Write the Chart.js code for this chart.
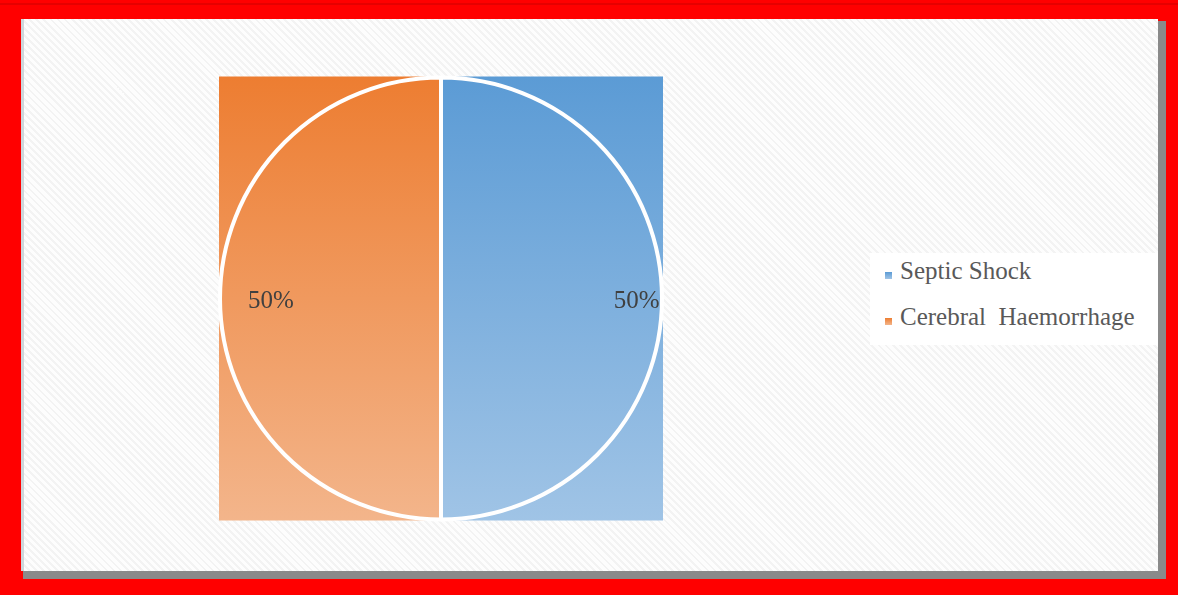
<!DOCTYPE html>
<html>
<head>
<meta charset="utf-8">
<script src="https://cdn.jsdelivr.net/npm/chart.js@4"></script>
<style>
  html, body { margin:0; padding:0; width:1178px; height:595px; overflow:hidden; background:#ff0000; }
  #topline { position:absolute; left:0; top:3px; width:1178px; height:2px; background:#e60000; }
  #shadowR { position:absolute; left:1158px; top:21px; width:8px; height:558px; background:#8a8a8a; }
  #shadowB { position:absolute; left:23px; top:571px; width:1143px; height:8px; background:#8a8a8a; }
  #panel { position:absolute; left:21px; top:19px; width:1137px; height:552px;
    background: repeating-linear-gradient(45deg, #fdfdfd 0px, #fdfdfd 3px, #f3f3f3 3px, #f3f3f3 5px);
    border-left:3px solid #cfd6da; box-sizing:border-box; }
  #wrap { position:absolute; left:0; top:0; width:1178px; height:595px; }
  #legend { position:absolute; left:870px; top:253px; width:288px; height:92px; background:#ffffff;
    font-family:"Liberation Serif","Times New Roman",serif; font-size:25px; color:#595959; }
  .item { position:absolute; left:15px; white-space:pre; line-height:26px; }
  .mk { display:inline-block; width:7px; height:7px; margin-right:8px; vertical-align:baseline; }
</style>
</head>
<body>
<div id="topline"></div>
<div id="shadowR"></div>
<div id="shadowB"></div>
<div id="panel"></div>
<div id="wrap"><canvas id="c"></canvas></div>
<div id="legend"></div>
<script>
const categories = ["Septic Shock", "Cerebral  Haemorrhage"];
const values = [50, 50];
const topColors = ["#5b9bd5", "#ed7d31"];
const bottomColors = ["#a0c4e6", "#f3b58b"];

function makeGrad(chart, i) {
  const a = chart.chartArea;
  if (!a) return topColors[i];
  const g = chart.ctx.createLinearGradient(0, a.top, 0, a.bottom);
  g.addColorStop(0, topColors[i]);
  g.addColorStop(1, bottomColors[i]);
  return g;
}

const backSquare = {
  id: 'backSquare',
  beforeDatasetsDraw(chart) {
    const meta = chart.getDatasetMeta(0);
    const ctx = chart.ctx;
    ctx.save();
    meta.data.forEach((arc, i) => {
      const p = arc.getProps(['x','y','outerRadius','startAngle','endAngle'], true);
      const mid = (p.startAngle + p.endAngle) / 2;
      const r = p.outerRadius + 1;
      ctx.fillStyle = makeGrad(chart, i);
      if (Math.cos(mid) >= 0) ctx.fillRect(p.x, p.y - r, r, 2 * r);
      else ctx.fillRect(p.x - r, p.y - r, r, 2 * r);
    });
    ctx.restore();
  }
};

const pctLabels = {
  id: 'pctLabels',
  afterDatasetsDraw(chart) {
    const meta = chart.getDatasetMeta(0);
    const ctx = chart.ctx;
    const total = values.reduce((s, v) => s + v, 0);
    const factors = [0.885, 0.77];
    ctx.save();
    ctx.font = '25px "Liberation Serif", "Times New Roman", serif';
    ctx.fillStyle = '#404040';
    ctx.textAlign = 'center';
    ctx.textBaseline = 'middle';
    meta.data.forEach((arc, i) => {
      const p = arc.getProps(['x','y','outerRadius','startAngle','endAngle'], true);
      const mid = (p.startAngle + p.endAngle) / 2;
      const f = factors[i] || 0.8;
      const x = p.x + Math.cos(mid) * p.outerRadius * f;
      const y = p.y + Math.sin(mid) * p.outerRadius * f + 3;
      ctx.fillText(Math.round(values[i] / total * 100) + '%', x, y);
    });
    ctx.restore();
  }
};

new Chart(document.getElementById('c'), {
  type: 'pie',
  data: {
    labels: categories,
    datasets: [{
      data: values,
      backgroundColor: (ctx) => makeGrad(ctx.chart, ctx.dataIndex),
      borderColor: '#ffffff',
      borderWidth: 4
    }]
  },
  options: {
    responsive: true,
    maintainAspectRatio: false,
    animation: false,
    layout: { padding: { left: 218, top: 75, right: 514, bottom: 73 } },
    plugins: { legend: { display: false }, tooltip: { enabled: false } }
  },
  plugins: [backSquare, pctLabels]
});

const lg = document.getElementById('legend');
categories.forEach((name, i) => {
  const d = document.createElement('div');
  d.className = 'item';
  d.style.top = (5 + i * 46) + 'px';
  const m = document.createElement('span');
  m.className = 'mk';
  m.style.background = `linear-gradient(${topColors[i]}, ${bottomColors[i]})`;
  d.appendChild(m);
  d.appendChild(document.createTextNode(name));
  lg.appendChild(d);
});
</script>
</body>
</html>
